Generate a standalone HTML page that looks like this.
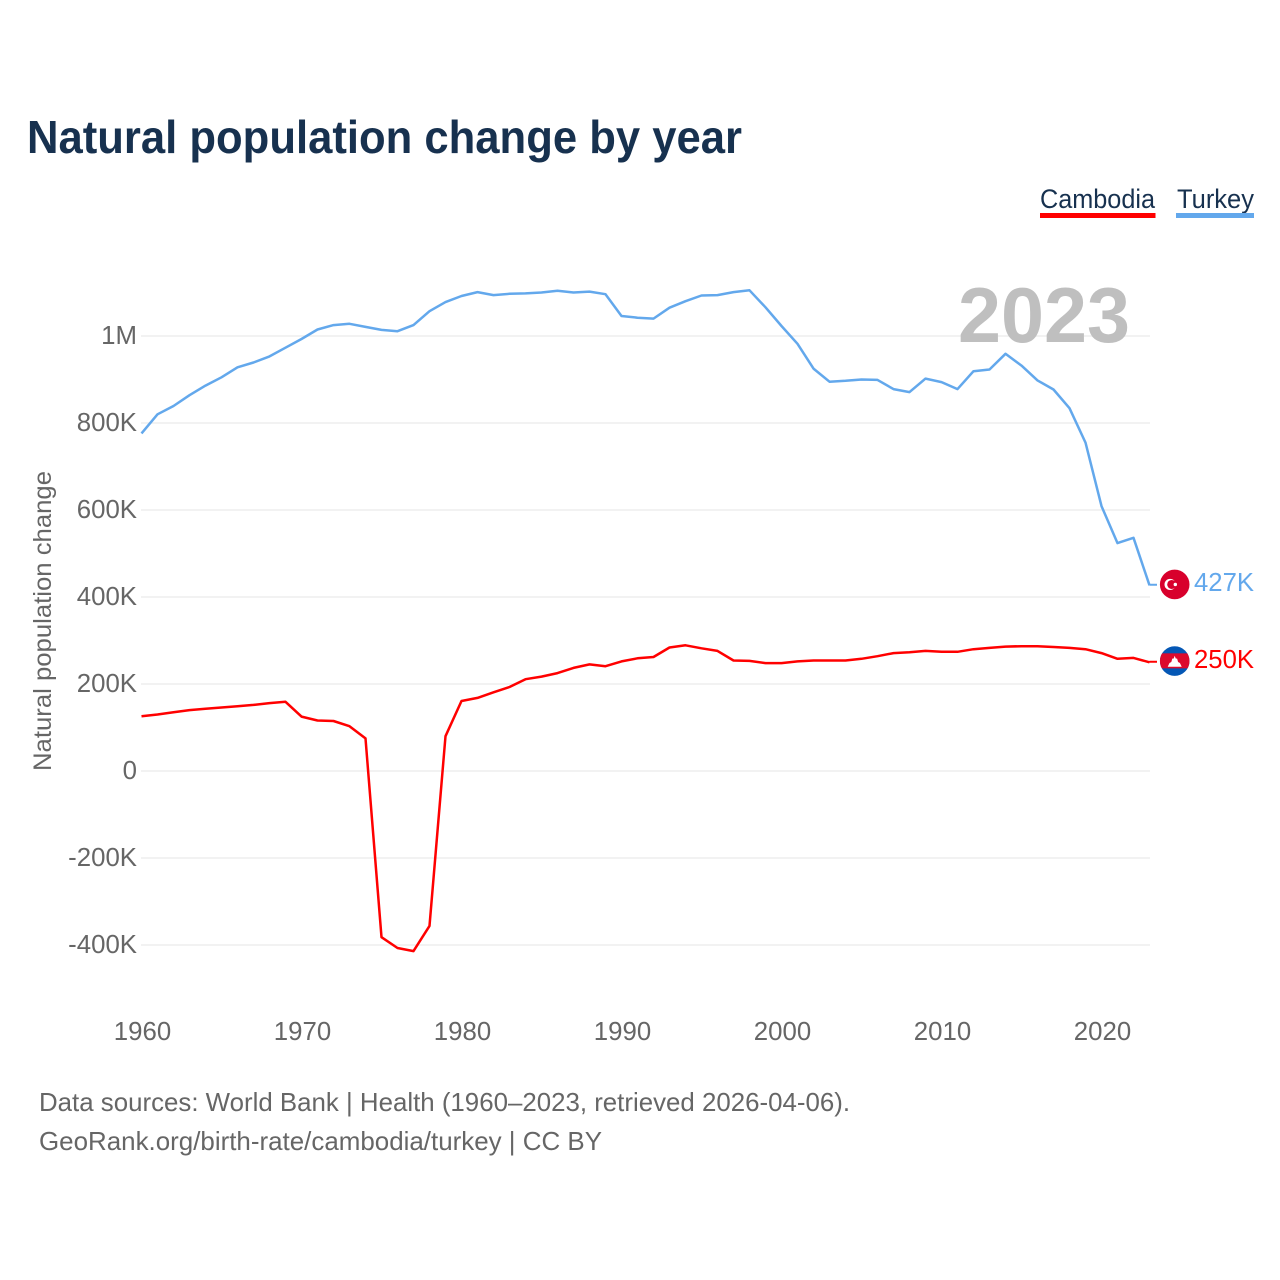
<!DOCTYPE html>
<html lang="en">
<head>
<meta charset="utf-8">
<title>Natural population change by year</title>
<style>
html,body{margin:0;padding:0;background:#fff;}
svg{display:block;font-family:"Liberation Sans",sans-serif;}
</style>
</head>
<body>
<svg id="chart" xmlns="http://www.w3.org/2000/svg" width="1280" height="1280" viewBox="0 0 1280 1280">
  <rect width="1280" height="1280" fill="#fff"/>
  <text x="27" y="153" font-size="46" font-weight="700" fill="#17314f" textLength="715" lengthAdjust="spacingAndGlyphs">Natural population change by year</text>

  <g>
    <g style="cursor:pointer">
      <text x="1040" y="208" font-size="27" fill="#17314f" textLength="115" lengthAdjust="spacingAndGlyphs">Cambodia</text>
      <rect x="1040" y="213" width="115.5" height="5" fill="#ff0000"/>
    </g>
    <g style="cursor:pointer">
      <text x="1177" y="208" font-size="27" fill="#17314f" textLength="77" lengthAdjust="spacingAndGlyphs">Turkey</text>
      <rect x="1176" y="213" width="78" height="5" fill="#63a8ec"/>
    </g>
  </g>

  <g id="grid"></g>
  <g id="yticks"></g>
  <g id="xticks"></g>

  <text transform="translate(51,771) rotate(-90)" x="0" y="0" font-size="25" fill="#666" textLength="300" lengthAdjust="spacingAndGlyphs">Natural population change</text>

  <text x="958" y="342" font-size="78" font-weight="700" fill="#bfbfbf" textLength="172" lengthAdjust="spacingAndGlyphs">2023</text>

  <g id="series"></g>

  <g id="flag-turkey">
    <circle r="14.8" fill="#d8002c"/>
    <circle cx="-4.6" cy="0" r="5.6" fill="#fff"/>
    <circle cx="-3" cy="0" r="4.5" fill="#d8002c"/>
    <circle cx="0.6" cy="0" r="1.7" fill="#fff"/>
  </g>
  <g id="flag-cambodia">
    <clipPath id="khm-clip"><circle r="14.8"/></clipPath>
    <g clip-path="url(#khm-clip)">
      <rect x="-15" y="-15" width="30" height="30" fill="#0457b5"/>
      <rect x="-15" y="-7.7" width="30" height="15" fill="#dc0a2d"/>
      <path d="M-7 5.7 L-5.2 2 L-3.4 1 L-2.4 -2.4 L-1 -2.6 L0 -5.3 L1 -2.6 L2.4 -2.4 L3.4 1 L5.2 2 L7 5.7 Z" fill="#fff"/>
    </g>
  </g>

  <text id="label-turkey" x="1194" font-size="26" fill="#63a8ec" textLength="60" lengthAdjust="spacingAndGlyphs"></text>
  <text id="label-cambodia" x="1194" font-size="26" fill="#ff0000" textLength="60" lengthAdjust="spacingAndGlyphs"></text>

  <text x="39" y="1111" font-size="26" fill="#666" textLength="811" lengthAdjust="spacingAndGlyphs">Data sources: World Bank | Health (1960–2023, retrieved 2026-04-06).</text>
  <text x="39" y="1150" font-size="26" fill="#666" textLength="563" lengthAdjust="spacingAndGlyphs">GeoRank.org/birth-rate/cambodia/turkey | CC BY</text>
</svg>

<script>
const startYear = 1960;
const yTickValues = [1000, 800, 600, 400, 200, 0, -200, -400];
const yTickLabels = ["1M", "800K", "600K", "400K", "200K", "0", "-200K", "-400K"];
const xTickYears = [1960, 1970, 1980, 1990, 2000, 2010, 2020];
const turkeyValues = [776,820,839,864,886,905,928,939,953,973,993,1015,1025,1028,1021,1014,1011,1025,1057,1078,1092,1101,1094,1097,1098,1100,1104,1100,1102,1096,1046,1042,1040,1065,1080,1093,1094,1101,1105,1066,1023,982,925,895,897,900,899,878,871,902,894,878,919,923,959,932,898,877,834,755,609,524,536,427];
const cambodiaValues = [126,130,135,140,143,146,149,152,156,159,125,116,115,103,75,-382,-407,-414,-356,80,161,168,181,193,211,217,225,237,245,241,252,259,262,284,289,282,276,254,253,248,248,252,254,254,254,258,264,271,273,276,274,274,280,283,286,287,287,285,283,280,271,258,260,250];
const turkeyEndLabel = "427K";
const cambodiaEndLabel = "250K";

const NS = "http://www.w3.org/2000/svg";
function xScale(year) { return 141.5 + (year - startYear) * 16; }
function yScale(value) { return 771 - value * 0.435; }
function make(tag, attrs, parent, text) {
  const el = document.createElementNS(NS, tag);
  for (const k in attrs) el.setAttribute(k, attrs[k]);
  if (text !== undefined) el.textContent = text;
  parent.appendChild(el);
  return el;
}

const grid = document.getElementById("grid");
const yticks = document.getElementById("yticks");
const xticks = document.getElementById("xticks");
const series = document.getElementById("series");

yTickValues.forEach(function (v, i) {
  const line = make("line", { x1: 141, x2: 1150, y1: yScale(v), y2: yScale(v), stroke: "#eeeeee", "stroke-width": 1.6 }, grid);
  
  
  const label = make("text", { x: 137, y: yScale(v) + 8, "text-anchor": "end", "font-size": 25.8, fill: "#666" }, yticks, yTickLabels[i]);
  
  
});

xTickYears.forEach(function (yr) {
  const label = make("text", { x: xScale(yr) + 1, y: 1040, "text-anchor": "middle", "font-size": 25.8, fill: "#666" }, xticks, String(yr));
  
  
});

function linePoints(values) {
  return values.map(function (v, i) { return xScale(startYear + i).toFixed(1) + "," + yScale(v).toFixed(1); }).join(" ");
}

const cambodiaLine = make("polyline", { points: linePoints(cambodiaValues), fill: "none", stroke: "#ff0000", "stroke-width": 2.5, "stroke-linejoin": "round" }, series);



const turkeyLine = make("polyline", { points: linePoints(turkeyValues), fill: "none", stroke: "#63a8ec", "stroke-width": 2.5, "stroke-linejoin": "round" }, series);



const lastX = xScale(startYear + turkeyValues.length - 1);
const turkeyEndY = yScale(turkeyValues[turkeyValues.length - 1]);
const cambodiaEndY = yScale(cambodiaValues[cambodiaValues.length - 1]);

const turkeyStub = make("line", { x1: lastX, x2: 1157, y1: turkeyEndY - 0.5, y2: turkeyEndY - 0.5, stroke: "#63a8ec", "stroke-width": 2 }, series);



const cambodiaStub = make("line", { x1: lastX, x2: 1157, y1: cambodiaEndY - 0.5, y2: cambodiaEndY - 0.5, stroke: "#ff0000", "stroke-width": 2 }, series);



document.getElementById("flag-turkey").setAttribute("transform", "translate(1174.7," + (turkeyEndY - 0.8) + ")");
document.getElementById("flag-cambodia").setAttribute("transform", "translate(1174.7," + (cambodiaEndY - 1.2) + ")");

const lt = document.getElementById("label-turkey");
lt.setAttribute("y", turkeyEndY + 5.5);
lt.textContent = turkeyEndLabel;
const lc = document.getElementById("label-cambodia");
lc.setAttribute("y", cambodiaEndY + 5.5);
lc.textContent = cambodiaEndLabel;
</script>
</body>
</html>
